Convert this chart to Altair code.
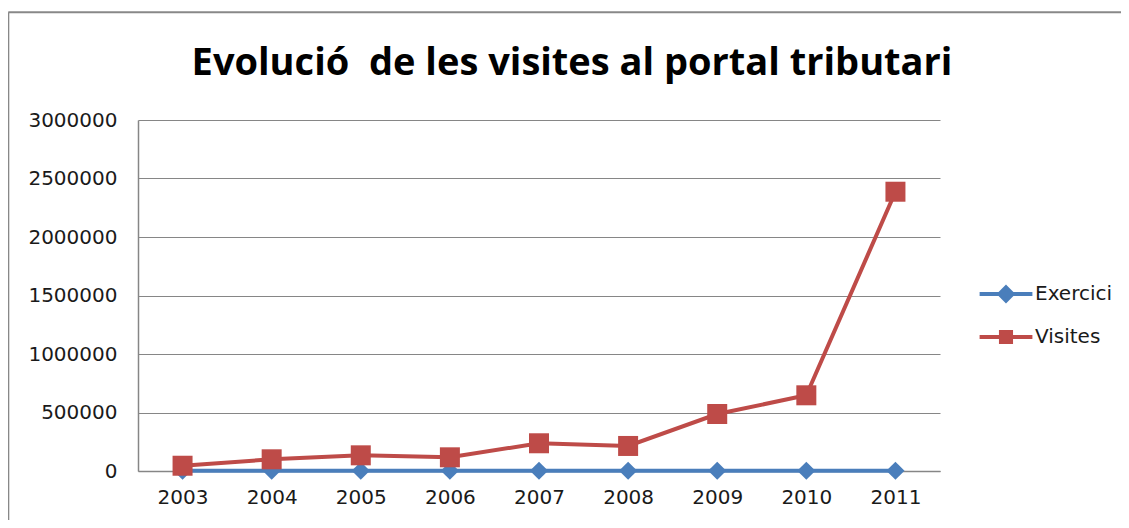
import altair as alt
import pandas as pd

years = ["2003", "2004", "2005", "2006", "2007", "2008", "2009", "2010", "2011"]
exercici = [2003, 2004, 2005, 2006, 2007, 2008, 2009, 2010, 2011]
visites = [45000, 100000, 134000, 117000, 237000, 214000, 487000, 647000, 2387000]
series = ["Exercici", "Visites"]
colors = ["#4a7ebb", "#be4b48"]
y_ticks = [0, 500000, 1000000, 1500000, 2000000, 2500000, 3000000]
title_text = ["Evolució\u00a0 de les visites al portal tributari"]

df = pd.DataFrame({
    "Any": years * 2,
    "Valor": exercici + visites,
    "Serie": ["Exercici"] * len(years) + ["Visites"] * len(years),
})

FONT = "DejaVu Sans"
GRID = "#868686"

x_enc = alt.X("Any:O", sort=years, title=None,
              scale=alt.Scale(type="point", padding=0.5),
              axis=alt.Axis(labelAngle=0, labelFontSize=20, labelFont=FONT,
                            labelColor="#1a1a1a", ticks=False, labelPadding=16,
                            domainColor=GRID, domainWidth=1.5, grid=False))
y_enc = alt.Y("Valor:Q", title=None,
              scale=alt.Scale(domain=[0, 3000000], nice=False),
              axis=alt.Axis(values=y_ticks, format="d", labelFontSize=20,
                            labelFont=FONT, labelColor="#1a1a1a", ticks=False,
                            labelPadding=21, domainColor=GRID, domainWidth=1.5,
                            grid=True, gridColor=GRID, gridWidth=1))

def cscale():
    return alt.Scale(domain=series, range=colors)

base = alt.Chart(df).encode(x=x_enc, y=y_enc)

line = base.mark_line(strokeWidth=4).encode(
    color=alt.Color("Serie:N", scale=cscale(), legend=None))

pts_ex = base.transform_filter("datum.Serie == 'Exercici'").mark_point(
    filled=True, opacity=1, shape="diamond", size=330, color=colors[0])
pts_vi = base.transform_filter("datum.Serie == 'Visites'").mark_point(
    filled=True, opacity=1, shape="square", size=400, color=colors[1])

path_ex = "M-2.2,0H2.2M0,-0.55L0.55,0L0,0.55L-0.55,0Z"
path_vi = "M-2.2,0H2.2M-0.42,-0.42H0.42V0.42H-0.42Z"
leg = alt.Legend(title=None, orient="none", legendX=854, legendY=160,
                 labelFontSize=20, labelFont=FONT, labelColor="#1a1a1a",
                 symbolSize=576, symbolStrokeWidth=4, labelOffset=15,
                 rowPadding=14, padding=0)

legend_layer = alt.Chart(df).transform_filter("datum.Valor < 0").mark_point(
    filled=True, strokeWidth=4, opacity=1).encode(
    x=alt.X("Any:O", sort=years), y="Valor:Q",
    color=alt.Color("Serie:N", scale=cscale(), legend=leg),
    stroke=alt.Stroke("Serie:N", scale=cscale(), legend=leg),
    shape=alt.Shape("Serie:N", scale=alt.Scale(domain=series, range=[path_ex, path_vi]), legend=leg),
)

frame_df = pd.DataFrame({"a": [0]})
frame_top = alt.Chart(frame_df).mark_rule(color="#888888", strokeWidth=2).encode(
    x=alt.value(-129.7), x2=alt.value(1000), y=alt.value(-107.7))
frame_left = alt.Chart(frame_df).mark_rule(color="#888888", strokeWidth=2).encode(
    x=alt.value(-129.7), y=alt.value(-107.7), y2=alt.value(420))

title_df = pd.DataFrame({"t": title_text})
title = alt.Chart(title_df).mark_text(
    font="Open Sans", fontSize=38, fontWeight="bold", color="#000000",
    align="center", baseline="alphabetic").encode(
    text="t:N", x=alt.value(434), y=alt.value(-45))

chart = alt.layer(frame_top, frame_left, title, line, pts_ex, pts_vi, legend_layer).resolve_scale(
    color="independent", stroke="independent", shape="independent"
).properties(
    width=802, height=351,
    autosize=alt.AutoSizeParams(type="none"),
    padding={"left": 130, "top": 112, "right": 181, "bottom": 49},
).configure_view(stroke=None)

chart.save("out.html", embed_options={"renderer": "svg", "actions": False})
